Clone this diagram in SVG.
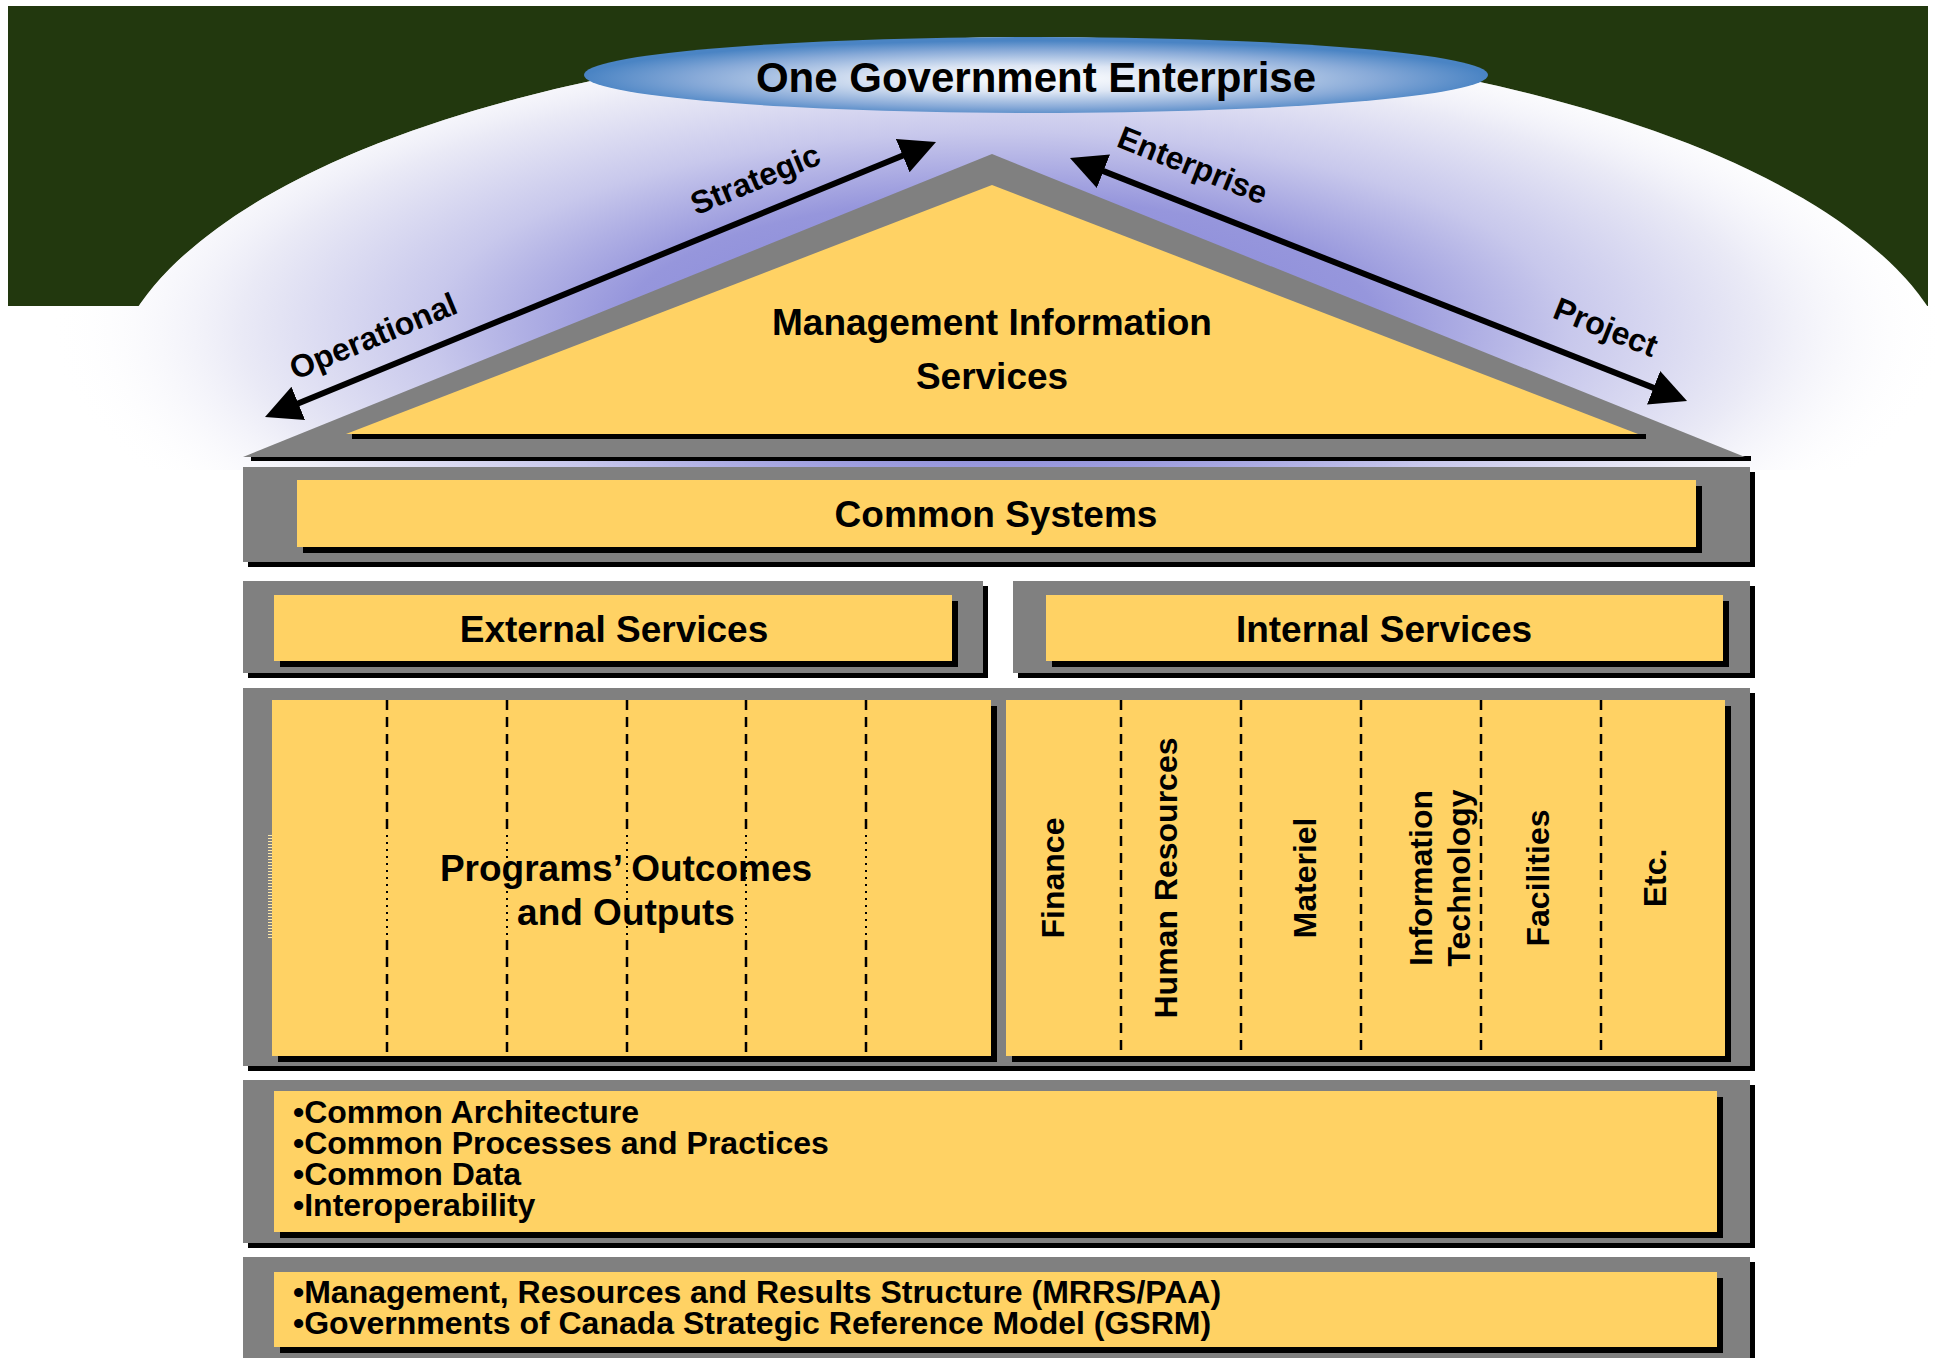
<svg xmlns="http://www.w3.org/2000/svg" width="1937" height="1358" viewBox="0 0 1937 1358">
<defs>
<style>
text{font-family:"Liberation Sans",Arial,Helvetica,sans-serif;font-weight:bold;fill:#000}
.gray{fill:#808080}
.yel{fill:#FFD264}
.sh{fill:#000}
.t37{font-size:37px;text-anchor:middle}
.lab{font-size:32px;text-anchor:middle}
.vert{font-size:32px;text-anchor:middle}
.bul{font-size:32px}
.dash{stroke:#000;stroke-width:2.5;stroke-dasharray:10 7;fill:none}
.dot{stroke:#000;stroke-width:2;stroke-dasharray:2 5;fill:none}
.arrow{stroke:#000;stroke-width:6;fill:none;marker-start:url(#ah);marker-end:url(#ah)}
</style>
<radialGradient id="glow" gradientUnits="userSpaceOnUse" cx="1000" cy="330" r="950" gradientTransform="translate(1000 330) scale(1 0.3474) translate(-1000 -330)">
<stop offset="0" stop-color="#8080D8" stop-opacity="1"/>
<stop offset="0.4" stop-color="#9696DC" stop-opacity="1"/>
<stop offset="0.6" stop-color="#C8C8EC" stop-opacity="1"/>
<stop offset="0.8" stop-color="#EAEAF6" stop-opacity="1"/>
<stop offset="1" stop-color="#FFFFFF" stop-opacity="0"/>
</radialGradient>
<radialGradient id="blue" cx="0.5" cy="0.55" r="0.5">
<stop offset="0" stop-color="#FFFFFF"/>
<stop offset="0.35" stop-color="#DDE6F4"/>
<stop offset="0.75" stop-color="#88AAD8"/>
<stop offset="1" stop-color="#4A84C4"/>
</radialGradient>
<marker id="ah" markerUnits="userSpaceOnUse" viewBox="0 0 36 36" markerWidth="36" markerHeight="36" refX="28" refY="18" orient="auto-start-reverse">
<path d="M0,0 L36,18 L0,36 z" fill="#000"/>
</marker>
<clipPath id="domeclip">
<ellipse cx="1033" cy="400" rx="926" ry="363"/>
<rect x="0" y="306" width="1937" height="1052"/>
</clipPath>
<clipPath id="topclip"><rect x="0" y="0" width="1937" height="470"/></clipPath>
</defs>

<rect x="0" y="0" width="1937" height="1358" fill="#FFFFFF"/>
<g id="background">
<rect x="8" y="6" width="1920" height="300" fill="#22380E"/>
<ellipse cx="1033" cy="400" rx="926" ry="363" fill="#FFFFFF"/>
<g clip-path="url(#topclip)">
<ellipse cx="1000" cy="330" rx="950" ry="330" fill="url(#glow)" clip-path="url(#domeclip)"/>
</g>
</g>

<g id="one-government-enterprise">
<ellipse cx="1036" cy="75" rx="452" ry="38" fill="url(#blue)"/>
<text x="1036" y="92" font-size="42" text-anchor="middle">One Government Enterprise</text>
</g>

<g id="management-information-services">
<rect class="sh" x="251" y="456" width="1500" height="5"/>
<polygon class="gray" points="243,457 992,154 1745,457"/>
<rect class="sh" x="352" y="434" width="1294" height="5"/>
<polygon class="yel" points="346,434 992,185 1638,434"/>
<text class="t37" x="992" y="335">Management Information</text>
<text class="t37" x="992" y="389">Services</text>
</g>

<g id="connectors">
<path class="arrow" d="M272.4,414 L928.6,145"/>
<path class="arrow" d="M1077.4,160.9 L1679.6,398.1"/>
<text class="lab" transform="translate(374,338) rotate(-22.5)" y="9">Operational</text>
<text class="lab" transform="translate(756,181) rotate(-22.5)" y="9">Strategic</text>
<text class="lab" transform="translate(1192,167) rotate(21.8)" y="9">Enterprise</text>
<text class="lab" transform="translate(1605,329) rotate(21.8)" y="9">Project</text>
</g>

<g id="common-systems">
<rect class="sh" x="248" y="472" width="1507" height="95"/>
<rect class="gray" x="243" y="467" width="1507" height="95"/>
<rect class="sh" x="303" y="486" width="1399" height="67"/>
<rect class="yel" x="297" y="480" width="1399" height="67"/>
<text class="t37" x="996" y="527">Common Systems</text>
</g>

<g id="external-services">
<rect class="sh" x="248" y="586" width="740" height="92"/>
<rect class="gray" x="243" y="581" width="740" height="92"/>
<rect class="sh" x="280" y="601" width="678" height="66"/>
<rect class="yel" x="274" y="595" width="678" height="66"/>
<text class="t37" x="614" y="642">External Services</text>
</g>

<g id="internal-services">
<rect class="sh" x="1018" y="586" width="737" height="92"/>
<rect class="gray" x="1013" y="581" width="737" height="92"/>
<rect class="sh" x="1052" y="601" width="677" height="66"/>
<rect class="yel" x="1046" y="595" width="677" height="66"/>
<text class="t37" x="1384" y="642">Internal Services</text>
</g>

<g id="services-frame">
<rect class="sh" x="248" y="693" width="1507" height="378"/>
<rect class="gray" x="243" y="688" width="1507" height="378"/>
</g>

<g id="programs-outcomes">
<rect class="sh" x="278" y="706" width="719" height="356"/>
<rect class="yel" x="272" y="700" width="719" height="356"/>
<path class="dash" d="M387,700 V835 M507,700 V835 M627,700 V835 M746,700 V835 M866,700 V835 M387,940 V1056 M507,940 V1056 M627,940 V1056 M746,940 V1056 M866,940 V1056"/>
<path class="dot" d="M387,835 V940 M507,835 V940 M627,835 V940 M746,835 V940 M866,835 V940"/>
<path d="M270,835 V940" stroke="#FFE9A8" stroke-width="4" stroke-dasharray="1 2" fill="none"/>
<text class="t37" x="626" y="881">Programs’ Outcomes</text>
<text class="t37" x="626" y="925">and Outputs</text>
</g>

<g id="internal-functions">
<rect class="sh" x="1012" y="706" width="719" height="356"/>
<rect class="yel" x="1006" y="700" width="719" height="356"/>
<path class="dash" d="M1121,700 V1056 M1241,700 V1056 M1361,700 V1056 M1481,700 V1056 M1601,700 V1056"/>
<text class="vert" transform="translate(1064,878) rotate(-90)">Finance</text>
<text class="vert" transform="translate(1177,878) rotate(-90)">Human Resources</text>
<text class="vert" transform="translate(1316,878) rotate(-90)">Materiel</text>
<text class="vert" transform="translate(1432,878) rotate(-90)">Information</text>
<text class="vert" transform="translate(1470,878) rotate(-90)">Technology</text>
<text class="vert" transform="translate(1549,878) rotate(-90)">Facilities</text>
<text class="vert" transform="translate(1666,878) rotate(-90)">Etc.</text>
</g>

<g id="common-architecture">
<rect class="sh" x="248" y="1085" width="1507" height="163"/>
<rect class="gray" x="243" y="1080" width="1507" height="163"/>
<rect class="sh" x="280" y="1097" width="1443" height="141"/>
<rect class="yel" x="274" y="1091" width="1443" height="141"/>
<text class="bul" x="293" y="1123">•Common Architecture</text>
<text class="bul" x="293" y="1154">•Common Processes and Practices</text>
<text class="bul" x="293" y="1185">•Common Data</text>
<text class="bul" x="293" y="1216">•Interoperability</text>
</g>

<g id="mrrs-gsrm">
<rect class="sh" x="248" y="1262" width="1507" height="110"/>
<rect class="gray" x="243" y="1257" width="1507" height="110"/>
<rect class="sh" x="280" y="1278" width="1443" height="75"/>
<rect class="yel" x="274" y="1272" width="1443" height="75"/>
<text class="bul" x="293" y="1303">•Management, Resources and Results Structure (MRRS/PAA)</text>
<text class="bul" x="293" y="1334">•Governments of Canada Strategic Reference Model (GSRM)</text>
</g>
</svg>
